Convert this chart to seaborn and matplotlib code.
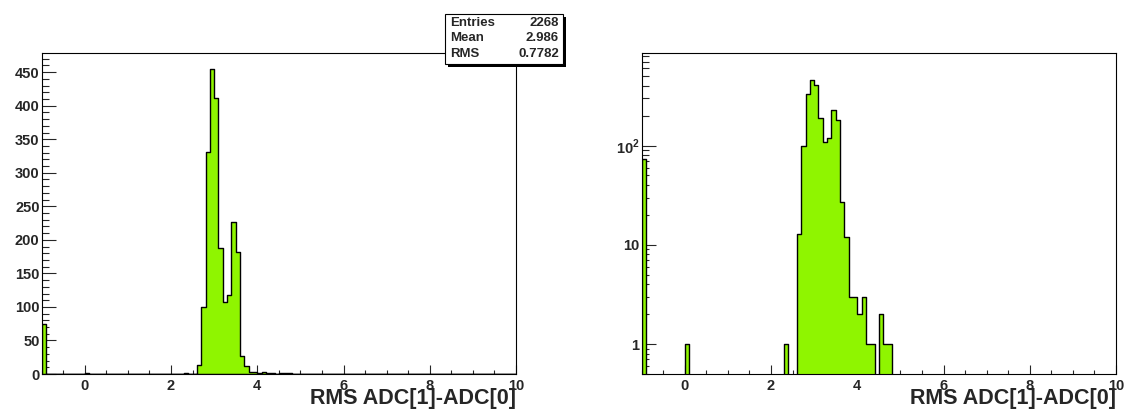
import matplotlib
matplotlib.use('Agg')
import matplotlib.pyplot as plt
from matplotlib.patches import Rectangle
from matplotlib.ticker import MultipleLocator, LogLocator, NullFormatter, FixedLocator, FixedFormatter
import numpy as np
import pandas as pd
import seaborn as sns

# lower edge of each non-empty bin (bin width 0.1) and its content
bin_low = [-1.0, 0.0, 2.3, 2.6, 2.7, 2.8, 2.9, 3.0, 3.1, 3.2, 3.3, 3.4, 3.5,
           3.6, 3.7, 3.8, 3.9, 4.0, 4.1, 4.2, 4.3, 4.5, 4.6, 4.7]
counts = [74, 1, 1, 13, 100, 331, 455, 411, 188, 108, 118, 227, 182,
          27, 12, 3, 3, 2, 3, 1, 1, 2, 1, 1]

stats_names = ["Entries", "Mean", "RMS"]
stats_values = ["2268", "2.986", "0.7782"]

x_title = "RMS ADC[1]-ADC[0]"
verde = "#8ff500"

sns.set_style("ticks")
plt.rcParams['font.family'] = ['Liberation Sans', 'DejaVu Sans']
plt.rcParams['font.weight'] = 'bold'
plt.rcParams['mathtext.fontset'] = 'custom'
plt.rcParams['mathtext.rm'] = 'Liberation Sans:bold'
plt.rcParams['mathtext.bf'] = 'Liberation Sans:bold'

df = pd.DataFrame({"rms": np.array(bin_low) + 0.05, "n": counts})

W, H = 1126, 411
fig = plt.figure(figsize=(W / 100, H / 100), dpi=100)
ax1 = fig.add_axes([41.7 / W, 37 / H, 474.3 / W, 321.3 / H])
ax2 = fig.add_axes([641.7 / W, 37 / H, 474.3 / W, 321.3 / H])

for ax in (ax1, ax2):
    sns.histplot(data=df, x="rms", weights="n", binwidth=0.1, binrange=(-1, 10),
                 element="step", fill=True, color=verde, edgecolor="black",
                 linewidth=1.0, alpha=1, ax=ax)
    ax.set_xlim(-1, 10)
    ax.set_ylabel("")
    ax.set_xlabel(x_title, fontsize=15.5, fontweight='bold', loc='right')
    ax.xaxis.set_label_coords(1.0, -0.045)
    ax.xaxis.set_major_locator(MultipleLocator(2))
    ax.xaxis.set_minor_locator(MultipleLocator(0.5))
    ax.tick_params(axis='x', which='major', direction='in', length=6.5, width=0.8, pad=3.5, labelsize=10.5)
    ax.tick_params(axis='x', which='minor', direction='in', length=3.2, width=0.8)
    ax.tick_params(axis='y', which='major', direction='in', length=10, width=0.8, pad=1.5, labelsize=10.5)
    ax.tick_params(axis='y', which='minor', direction='in', length=5, width=0.8)
    ax.tick_params(top=False, right=False, which='both')
    for s in ax.spines.values():
        s.set_visible(True)
        s.set_linewidth(0.8)
        s.set_color("black")
    for lab in ax.get_xticklabels() + ax.get_yticklabels():
        lab.set_fontweight('bold')

# linear panel
ax1.set_ylim(0, 479)
ax1.yaxis.set_major_locator(MultipleLocator(50))
ax1.yaxis.set_minor_locator(MultipleLocator(10))

# log panel
ax2.set_yscale('log')
ax2.set_ylim(0.5, 863)
ax2.yaxis.set_major_locator(FixedLocator([1, 10, 100]))
ax2.yaxis.set_major_formatter(FixedFormatter(["1", "10", r"$10^{2}$"]))
ax2.yaxis.set_minor_locator(LogLocator(base=10, subs=np.arange(2, 10), numticks=20))
ax2.yaxis.set_minor_formatter(NullFormatter())

# stats box
x0, y0, bw, bh = 445 / W, 1 - 64 / H, 118 / W, 50 / H
fig.patches.append(Rectangle((x0 + 3 / W, y0 - 3 / H), bw, bh, transform=fig.transFigure,
                             facecolor="black", edgecolor="none", zorder=5))
fig.patches.append(Rectangle((x0, y0), bw, bh, transform=fig.transFigure,
                             facecolor="white", edgecolor="black", linewidth=0.8, zorder=6))
for i, (nombre, valor) in enumerate(zip(stats_names, stats_values)):
    yy = 1 - (22.5 + 15.8 * i) / H
    fig.text(450 / W, yy, nombre, ha='left', va='center', fontsize=9.5, fontweight='bold', zorder=7)
    fig.text(559 / W, yy, valor, ha='right', va='center', fontsize=9.5, fontweight='bold', zorder=7)

fig.savefig("out.png", dpi=100)
